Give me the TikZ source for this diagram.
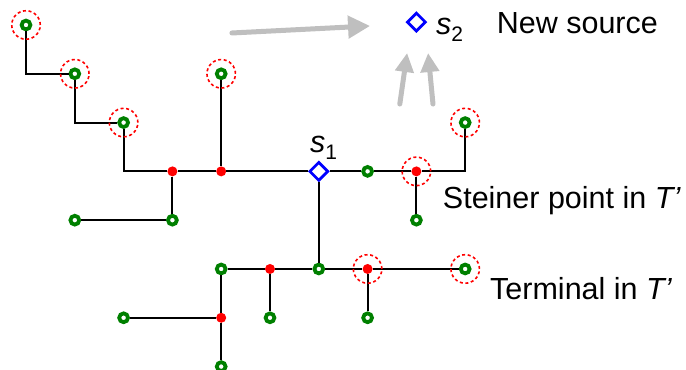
\documentclass[tikz,border=0pt]{standalone}
\usepackage{fontspec}
\setmainfont{Liberation Sans}
\usepackage{tikz}
\usetikzlibrary{positioning,arrows.meta,shapes.geometric}
\definecolor{termgreen}{RGB}{0,128,0}
\definecolor{steinred}{RGB}{255,0,0}
\definecolor{srcblue}{RGB}{0,0,255}
\definecolor{arrgray}{RGB}{191,191,191}
\newcommand{\srclbl}[1]{\textit{s}\raisebox{-7pt}{\fontsize{21}{21}\selectfont #1}}
\tikzset{
  term/.style   = {circle, draw=termgreen, fill=white, line width=3.8pt, inner sep=0pt, minimum size=8.8pt},
  stein/.style  = {circle, fill=steinred, inner sep=0pt, minimum size=10pt},
  src/.style    = {diamond, draw=srcblue, fill=white, line width=2.8pt, inner sep=0pt, minimum size=19pt},
  halo/.style   = {circle, draw=steinred, dash pattern=on 3pt off 2.6pt, line width=1.6pt, inner sep=0pt, minimum size=28.5pt},
  link/.style   = {line width=2pt, draw=black},
  shiftarr/.style = {-{Triangle[length=22pt,width=22pt]}, line width=5pt, draw=arrgray, line cap=round},
  uparr/.style  = {-{Triangle[length=19pt,width=18pt]}, line width=5pt, draw=arrgray, line cap=round},
  txt/.style    = {font=\fontsize{30.5}{36}\selectfont, inner sep=0pt, anchor=base west},
}

\begin{document}
\begin{tikzpicture}[x=48.8pt, y=-48.8pt]
  \useasboundingbox (-0.533,-0.512) rectangle (13.525,7.07);
  % upper staircase and main branch
  \node[term] (t1) at (0,0) {};
  \node[term] (t2) at (1,1) {};
  \node[term] (t3) at (2,2) {};
  \node[term] (t4) at (4,1) {};
  \node[stein] (r1) at (3,3) {};
  \node[stein] (r2) at (4,3) {};
  \node[src] (s1) at (6,3) {};
  \node[term] (g1) at (7,3) {};
  \node[stein] (r3) at (8,3) {};
  \node[term] (t5) at (9,2) {};
  \node[term] (g2) at (8,4) {};
  \node[term] (g3) at (3,4) {};
  \node[term] (g4) at (1,4) {};
  % lower branch
  \node[term] (g6) at (4,5) {};
  \node[stein] (r4) at (5,5) {};
  \node[term] (g5) at (6,5) {};
  \node[stein] (r5) at (7,5) {};
  \node[term] (t6) at (9,5) {};
  \node[term] (g7) at (5,6) {};
  \node[term] (g8) at (7,6) {};
  \node[stein] (r6) at (4,6) {};
  \node[term] (g9) at (2,6) {};
  \node[term] (g10) at (4,7) {};
  % new source
  \node[src] (s2) at (8,-0.06) {};

  \draw[link] (t1) |- (t2);
  \draw[link] (t2) |- (t3);
  \draw[link] (t3) |- (r1);
  \draw[link] (r1) -- (r2) -- (s1) -- (g1) -- (r3);
  \draw[link] (r3) -| (t5);
  \draw[link] (t4) -- (r2);
  \draw[link] (r1) -- (g3) -- (g4);
  \draw[link] (r3) -- (g2);
  \draw[link] (s1) -- (g5);
  \draw[link] (g6) -- (r4) -- (g5) -- (r5) -- (t6);
  \draw[link] (r4) -- (g7);
  \draw[link] (r5) -- (g8);
  \draw[link] (g6) -- (r6) -- (g10);
  \draw[link] (r6) -- (g9);

  \foreach \n in {t1,t2,t3,t4,t5,r3,r5,t6}
    \node[halo] (h-\n) at (\n) {};

  % labels
  \node[txt] (s1lbl) at (5.82,2.623) {\srclbl{1}};
  \node[txt] (s2lbl) at (8.40,0.205) {\srclbl{2}};
  \node[txt] (newsrc) at (9.645,0.17) {New source};
  \node[txt] (steinlbl) at (8.54,3.756) {Steiner point in \textit{T’}};
  \node[txt] (termlbl) at (9.508,5.635) {Terminal in \textit{T’}};

  % moving the source
  \coordinate (a0) at (4.22,0.164);
  \coordinate (a1) at (7.05,0.02);
  \coordinate (b0) at (7.66,1.62);
  \coordinate (b1) at (7.81,0.574);
  \coordinate (c0) at (8.34,1.62);
  \coordinate (c1) at (8.24,0.574);
  \draw[shiftarr] (a0) -- (a1);
  \draw[uparr] (b0) -- (b1);
  \draw[uparr] (c0) -- (c1);
\end{tikzpicture}
\end{document}
